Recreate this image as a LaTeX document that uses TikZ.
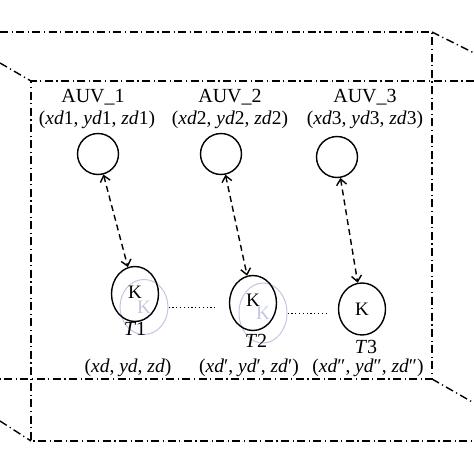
\documentclass[tikz,border=0pt]{standalone}
\usepackage{fontspec}
\setmainfont{Liberation Serif}
\usetikzlibrary{shapes.geometric,arrows.meta}
\definecolor{ghostc}{RGB}{195,198,225}
\tikzset{
  frame/.style={line width=1.4pt, dash pattern=on 8pt off 3.5pt on 1.2pt off 3.5pt},
  auv/.style={circle, draw, line width=1.4pt, minimum size=41pt, inner sep=0pt},
  tgt/.style={ellipse, draw, line width=1.4pt, minimum width=47pt, minimum height=55pt, inner sep=0pt, font=\fontsize{19}{19}\selectfont},
  ghost/.style={ellipse, draw=ghostc, text=ghostc, line width=1pt, minimum width=48pt, minimum height=55pt, inner sep=0pt, font=\fontsize{19}{19}\selectfont},
  lbl/.style={font=\fontsize{20}{20}\selectfont, inner sep=0pt},
  crd/.style={font=\fontsize{19.5}{19.5}\selectfont, inner sep=0pt},
  link/.style={line width=1.4pt, dash pattern=on 6pt off 4pt, {Straight Barb[length=6pt,width=10pt]}-{Straight Barb[length=6pt,width=10pt]}},
  dots/.style={line width=1pt, dash pattern=on 1.2pt off 2.6pt}
}
\begin{document}
\begin{tikzpicture}[x=1pt,y=-1pt]
\useasboundingbox (0,0) rectangle (474,474);
% back rectangle
\coordinate (btl) at (0,32);
\coordinate (btr) at (432,32);
\coordinate (bbr) at (432,379);
\coordinate (bbl) at (0,379);
% front rectangle
\coordinate (ftl) at (31,81);
\coordinate (ftr) at (474,81);
\coordinate (fbl) at (31,441);
\coordinate (fbr) at (474,441);
\draw[frame] (btl) -- (btr) -- (bbr) -- (bbl);
\draw[frame] (ftr) -- (ftl) -- (fbl) -- (fbr);
% diagonals
\coordinate (d1) at (0,63);
\coordinate (d2) at (474,53);
\coordinate (d3) at (474,403);
\coordinate (d4) at (0,421);
\draw[frame] (d1) -- (ftl);
\draw[frame] (btr) -- (d2);
\draw[frame] (bbr) -- (d3);
\draw[frame] (d4) -- (fbl);
% ghost circles
\node[ghost] (g1) at (144,307) {K};
\node[ghost, minimum height=60pt] (g2) at (263,313) {\raisebox{-2pt}{K}};
% AUVs
\node[auv] (auv1) at (98,154) {};
\node[auv] (auv2) at (221,154) {};
\node[auv] (auv3) at (337,157) {};
\node[lbl] (l1) at (93,97) {AUV\_1};
\node[lbl] (l2) at (230,97) {AUV\_2};
\node[lbl] (l3) at (365,97) {AUV\_3};
\node[crd] (c1) at (97,120) {(\textit{xd}1, \textit{yd}1, \textit{zd}1)};
\node[crd] (c2) at (230,120) {(\textit{xd}2, \textit{yd}2, \textit{zd}2)};
\node[crd] (c3) at (365,120) {(\textit{xd}3, \textit{yd}3, \textit{zd}3)};
% targets
\node[tgt] (k1) at (135,294) {\raisebox{4pt}{K}};
\node[tgt] (k2) at (253,303) {\raisebox{5pt}{K}};
\node[tgt, minimum height=52pt] (k3) at (362,309) {K};
\node[lbl] (t1) at (135,329) {\textit{T}1};
\node[lbl] (t2) at (256,341) {\textit{T}2};
\node[lbl] (t3) at (366,347) {\textit{T}3};
\node[crd] (p1) at (128,368) {(\textit{xd}, \textit{yd}, \textit{zd})};
\node[crd] (p2) at (249,368) {(\textit{xd}′, \textit{yd}′, \textit{zd}′)};
\node[crd] (p3) at (368,368) {(\textit{xd}″, \textit{yd}″, \textit{zd}″)};
% links
\draw[link] (auv1) -- (k1);
\draw[link] (auv2) -- (k2);
\draw[link] (auv3) -- (k3);
\draw[dots, shorten >=14pt] (g1.east) -- (g1.east -| k2.west);
\draw[dots, shorten >=10pt] (g2.east) -- (g2.east -| k3.west);
\end{tikzpicture}
\end{document}
